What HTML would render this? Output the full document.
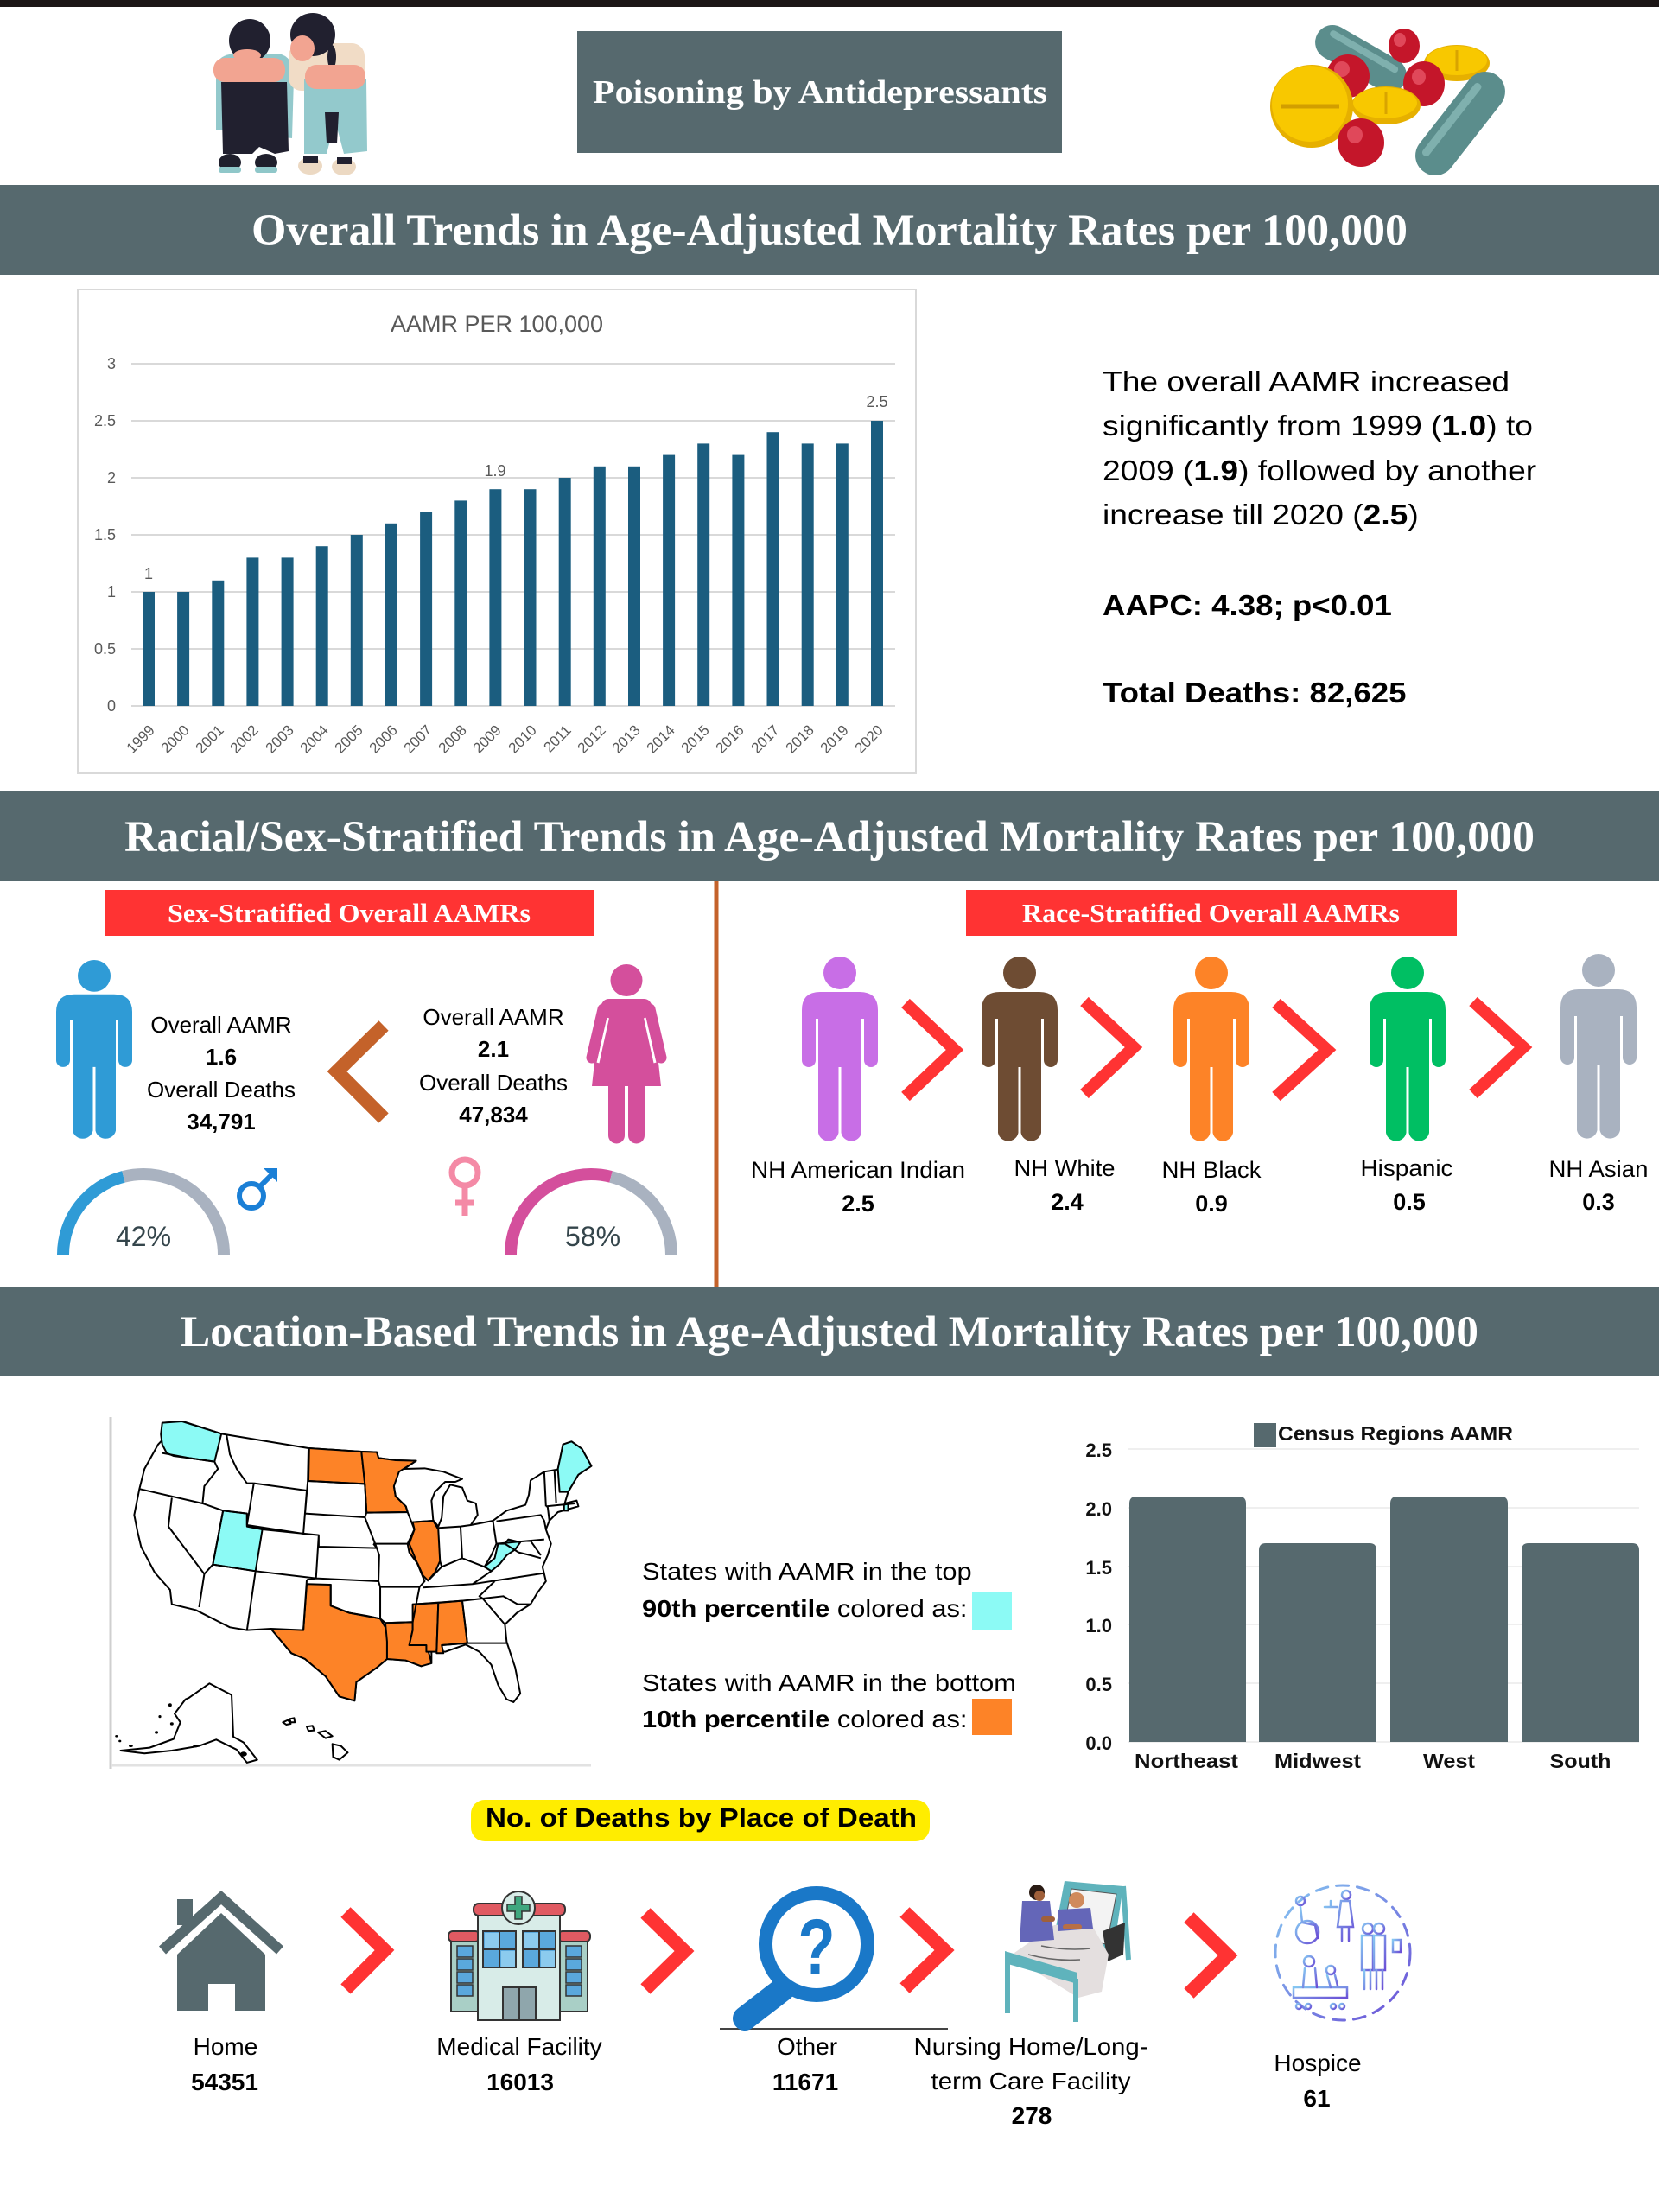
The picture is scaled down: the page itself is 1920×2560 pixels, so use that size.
<!DOCTYPE html>
<html><head><meta charset="utf-8"><title>Poisoning by Antidepressants</title>
<style>
html,body{margin:0;padding:0;background:#fff;}
svg{display:block;}
text{font-family:"Liberation Sans",Arial,sans-serif;}
.sf{font-family:"Liberation Serif",serif;font-weight:bold;fill:#fff;}
.b{font-weight:bold;}
</style></head><body>
<svg width="1920" height="2560" viewBox="0 0 1920 2560" xmlns="http://www.w3.org/2000/svg">
<defs>
<linearGradient id="hg" x1="0" y1="0" x2="1" y2="1"><stop offset="0" stop-color="#86c8f2"/><stop offset="1" stop-color="#6b4fd6"/></linearGradient>
</defs>
<rect width="1920" height="2560" fill="#fff"/>
<rect width="1920" height="8" fill="#1c1616"/>

<!-- girls illustration -->
<g>
<path d="M250,75 Q255,62 275,62 L322,62 Q340,65 340,90 L338,160 L250,150 Z" fill="#93c9cc"/>
<path d="M256,95 L332,95 L334,175 L318,178 L300,170 L292,178 L258,178 Z" fill="#21202f"/>
<ellipse cx="289" cy="47" rx="24" ry="25" fill="#21202f"/>
<ellipse cx="286" cy="64" rx="16" ry="7" fill="#f2a491"/>
<rect x="247" y="67" width="83" height="28" rx="13" fill="#f2a491"/>
<ellipse cx="266" cy="188" rx="13" ry="10" fill="#1f1f2c"/><rect x="253" y="193" width="26" height="7" rx="3" fill="#8fc7c9"/>
<ellipse cx="308" cy="188" rx="13" ry="10" fill="#1f1f2c"/><rect x="295" y="193" width="26" height="7" rx="3" fill="#8fc7c9"/>
<rect x="334" y="50" width="88" height="55" rx="15" fill="#f1dcc6"/>
<ellipse cx="362" cy="40" rx="26" ry="25" fill="#21202f"/>
<ellipse cx="350" cy="56" rx="14" ry="15" fill="#f2a491"/>
<ellipse cx="384" cy="66" rx="5" ry="14" fill="#21202f"/>
<path d="M352,92 L424,92 L425,175 L398,178 L388,140 L378,178 L352,178 Z" fill="#93c9cc"/>
<polygon points="376,130 392,130 390,166 378,166" fill="#21202f"/>
<rect x="353" y="75" width="70" height="28" rx="13" fill="#f2a491"/>
<ellipse cx="359" cy="192" rx="14" ry="10" fill="#ecd9c3"/><rect x="351" y="181" width="17" height="8" fill="#21202f"/>
<ellipse cx="398" cy="193" rx="14" ry="10" fill="#ecd9c3"/><rect x="390" y="182" width="17" height="8" fill="#21202f"/>
</g>

<!-- title box -->
<rect x="668" y="36" width="561" height="141" fill="#56696e"/>
<text class="sf" x="686" y="119" font-size="38" textLength="526" lengthAdjust="spacingAndGlyphs">Poisoning by Antidepressants</text>

<!-- pills -->
<g>
<g transform="translate(1575,68) rotate(30)"><rect x="-58" y="-20" width="116" height="40" rx="20" fill="#5b8d8c"/><rect x="-46" y="-13" width="90" height="8" rx="4" fill="#7fb0ae"/></g>
<ellipse cx="1625" cy="53" rx="18" ry="20" fill="#c4162a"/><ellipse cx="1620" cy="46" rx="7" ry="8" fill="#e0485a"/>
<ellipse cx="1686" cy="73" rx="38" ry="21" fill="#e6b000"/><ellipse cx="1686" cy="70" rx="35" ry="17" fill="#f8c800"/><line x1="1686" y1="58" x2="1686" y2="82" stroke="#d9a400" stroke-width="3"/>
<ellipse cx="1560" cy="88" rx="25" ry="25" fill="#c4162a"/><ellipse cx="1553" cy="80" rx="9" ry="9" fill="#e0485a"/>
<ellipse cx="1648" cy="97" rx="24" ry="26" fill="#c4162a"/><ellipse cx="1642" cy="89" rx="8" ry="9" fill="#e0485a"/>
<g transform="translate(1690,143) rotate(-52)"><rect x="-70" y="-23" width="140" height="46" rx="23" fill="#5b8d8c"/><rect x="-55" y="-15" width="105" height="9" rx="4" fill="#7fb0ae"/></g>
<circle cx="1518" cy="123" r="48" fill="#e6b000"/><circle cx="1516" cy="120" r="44" fill="#f8c800"/><line x1="1482" y1="123" x2="1550" y2="123" stroke="#d29e00" stroke-width="5"/>
<ellipse cx="1604" cy="122" rx="40" ry="22" fill="#e6b000"/><ellipse cx="1603" cy="119" rx="37" ry="18" fill="#f8c800"/><line x1="1604" y1="106" x2="1604" y2="132" stroke="#d9a400" stroke-width="3"/>
<ellipse cx="1575" cy="165" rx="27" ry="28" fill="#c4162a"/><ellipse cx="1568" cy="156" rx="9" ry="10" fill="#e0485a"/>
</g>

<!-- band 1 -->
<rect x="0" y="214" width="1920" height="104" fill="#56696e"/>
<text class="sf" x="291" y="283" font-size="51" textLength="1338" lengthAdjust="spacingAndGlyphs">Overall Trends in Age-Adjusted Mortality Rates per 100,000</text>

<!-- AAMR chart -->
<rect x="90" y="335" width="970" height="560" fill="#fff" stroke="#d9d9d9" stroke-width="2"/>
<text x="575" y="384" font-size="27" fill="#595959" text-anchor="middle">AAMR PER 100,000</text>
<g stroke="#d9d9d9" stroke-width="2">
<line x1="152" y1="817" x2="1036" y2="817"/><line x1="152" y1="751" x2="1036" y2="751"/><line x1="152" y1="685" x2="1036" y2="685"/><line x1="152" y1="619" x2="1036" y2="619"/><line x1="152" y1="553" x2="1036" y2="553"/><line x1="152" y1="487" x2="1036" y2="487"/><line x1="152" y1="421" x2="1036" y2="421"/>
</g>
<g font-size="18" fill="#595959" text-anchor="end">
<text x="134" y="823">0</text><text x="134" y="757">0.5</text><text x="134" y="691">1</text><text x="134" y="625">1.5</text><text x="134" y="559">2</text><text x="134" y="493">2.5</text><text x="134" y="427">3</text>
</g>
<g fill="#1b5d7f">
<rect x="165" y="685" width="14" height="132"/>
<rect x="205.1" y="685" width="14" height="132"/>
<rect x="245.3" y="671.8" width="14" height="145.2"/>
<rect x="285.4" y="645.4" width="14" height="171.6"/>
<rect x="325.6" y="645.4" width="14" height="171.6"/>
<rect x="365.7" y="632.2" width="14" height="184.8"/>
<rect x="405.8" y="619" width="14" height="198"/>
<rect x="446" y="605.8" width="14" height="211.2"/>
<rect x="486.1" y="592.6" width="14" height="224.4"/>
<rect x="526.3" y="579.4" width="14" height="237.6"/>
<rect x="566.4" y="566.2" width="14" height="250.8"/>
<rect x="606.5" y="566.2" width="14" height="250.8"/>
<rect x="646.7" y="553" width="14" height="264"/>
<rect x="686.8" y="539.8" width="14" height="277.2"/>
<rect x="727" y="539.8" width="14" height="277.2"/>
<rect x="767.1" y="526.6" width="14" height="290.4"/>
<rect x="807.2" y="513.4" width="14" height="303.6"/>
<rect x="847.4" y="526.6" width="14" height="290.4"/>
<rect x="887.5" y="500.2" width="14" height="316.8"/>
<rect x="927.7" y="513.4" width="14" height="303.6"/>
<rect x="967.8" y="513.4" width="14" height="303.6"/>
<rect x="1008" y="487" width="14" height="330"/>
</g>
<g font-size="18" fill="#595959" text-anchor="middle">
<text x="172" y="670">1</text><text x="573" y="551">1.9</text><text x="1015" y="471">2.5</text>
</g>
<g font-size="17" fill="#595959" text-anchor="end">
<text transform="translate(180,846) rotate(-45)">1999</text>
<text transform="translate(220,846) rotate(-45)">2000</text>
<text transform="translate(260,846) rotate(-45)">2001</text>
<text transform="translate(300,846) rotate(-45)">2002</text>
<text transform="translate(341,846) rotate(-45)">2003</text>
<text transform="translate(381,846) rotate(-45)">2004</text>
<text transform="translate(421,846) rotate(-45)">2005</text>
<text transform="translate(461,846) rotate(-45)">2006</text>
<text transform="translate(501,846) rotate(-45)">2007</text>
<text transform="translate(541,846) rotate(-45)">2008</text>
<text transform="translate(581,846) rotate(-45)">2009</text>
<text transform="translate(622,846) rotate(-45)">2010</text>
<text transform="translate(662,846) rotate(-45)">2011</text>
<text transform="translate(702,846) rotate(-45)">2012</text>
<text transform="translate(742,846) rotate(-45)">2013</text>
<text transform="translate(782,846) rotate(-45)">2014</text>
<text transform="translate(822,846) rotate(-45)">2015</text>
<text transform="translate(862,846) rotate(-45)">2016</text>
<text transform="translate(903,846) rotate(-45)">2017</text>
<text transform="translate(943,846) rotate(-45)">2018</text>
<text transform="translate(983,846) rotate(-45)">2019</text>
<text transform="translate(1023,846) rotate(-45)">2020</text>
</g>

<!-- right text -->
<g transform="translate(1276,0) scale(1.127,1)" font-size="33" fill="#000">
<text x="0" y="453">The overall AAMR increased</text>
<text x="0" y="504">significantly from 1999 (<tspan class="b">1.0</tspan>) to</text>
<text x="0" y="556">2009 (<tspan class="b">1.9</tspan>) followed by another</text>
<text x="0" y="607">increase till 2020 (<tspan class="b">2.5</tspan>)</text>
</g>
<g transform="translate(1276,0) scale(1.11,1)" font-size="33" fill="#000" font-weight="bold">
<text x="0" y="712">AAPC: 4.38; p&lt;0.01</text>
<text x="0" y="813">Total Deaths: 82,625</text>
</g>

<!-- band 2 -->
<rect x="0" y="916" width="1920" height="104" fill="#56696e"/>
<text class="sf" x="144" y="985" font-size="51" textLength="1632" lengthAdjust="spacingAndGlyphs">Racial/Sex-Stratified Trends in Age-Adjusted Mortality Rates per 100,000</text>

<!-- divider -->
<line x1="829" y1="1020" x2="829" y2="1489" stroke="#c4622a" stroke-width="5"/>

<!-- sex section -->
<rect x="121" y="1030" width="567" height="53" fill="#ff3333"/>
<text class="sf" x="194" y="1067" font-size="31" textLength="420" lengthAdjust="spacingAndGlyphs">Sex-Stratified Overall AAMRs</text>

<g transform="translate(109,1111) scale(1,0.968)" fill="#2f9bd6">
<circle cx="0" cy="19" r="19"/>
<path d="M-44,120 V62 Q-44,41 -23,41 H23 Q44,41 44,62 V120 A8,8 0 0 1 28,120 V72 H25 V204 A12,12 0 0 1 1.5,204 V128 H-1.5 V204 A12,12 0 0 1 -25,204 V72 H-28 V120 A8,8 0 0 1 -44,120 Z"/>
</g>
<g font-size="26" fill="#000" text-anchor="middle">
<text x="256" y="1195">Overall AAMR</text>
<text x="256" y="1232" class="b">1.6</text>
<text x="256" y="1270">Overall Deaths</text>
<text x="256" y="1307" class="b">34,791</text>
<text x="571" y="1186">Overall AAMR</text>
<text x="571" y="1223" class="b">2.1</text>
<text x="571" y="1262">Overall Deaths</text>
<text x="571" y="1299" class="b">47,834</text>
</g>
<polyline points="444,1187 390,1240 444,1294" fill="none" stroke="#c4622a" stroke-width="16"/>

<g transform="translate(725,1116)">
<circle cx="0" cy="18.5" r="18.5" fill="#d44f9c"/>
<path d="M-20,40 H20 Q28,40 30,50 L40,141 H-40 L-30,50 Q-28,40 -20,40 Z" fill="#d44f9c"/>
<line x1="-21.5" y1="62" x2="-33" y2="114" stroke="#fff" stroke-width="3"/>
<line x1="21.5" y1="62" x2="33" y2="114" stroke="#fff" stroke-width="3"/>
<line x1="-27" y1="52" x2="-40" y2="108" stroke="#d44f9c" stroke-width="13" stroke-linecap="round"/>
<line x1="27" y1="52" x2="40" y2="108" stroke="#d44f9c" stroke-width="13" stroke-linecap="round"/>
<path d="M-21,139 H-2 V198 A9.5,9.5 0 0 1 -21,198 Z" fill="#d44f9c"/>
<path d="M2,139 H21 V198 A9.5,9.5 0 0 1 2,198 Z" fill="#d44f9c"/>
</g>

<!-- gauges -->
<path d="M73,1452 A93,93 0 0 1 142.9,1361.9" fill="none" stroke="#2f9bd6" stroke-width="14"/>
<path d="M142.9,1361.9 A93,93 0 0 1 259,1452" fill="none" stroke="#a9b2c0" stroke-width="14"/>
<text x="166" y="1442" font-size="32" fill="#34454b" text-anchor="middle">42%</text>
<path d="M591,1452 A93,93 0 0 1 707.1,1361.9" fill="none" stroke="#d44f9c" stroke-width="14"/>
<path d="M707.1,1361.9 A93,93 0 0 1 777,1452" fill="none" stroke="#a9b2c0" stroke-width="14"/>
<text x="686" y="1442" font-size="32" fill="#34454b" text-anchor="middle">58%</text>
<!-- male symbol -->
<circle cx="291" cy="1384" r="14" fill="none" stroke="#1a7fd6" stroke-width="6"/>
<line x1="301" y1="1373" x2="316" y2="1358" stroke="#1a7fd6" stroke-width="6"/>
<polygon points="305,1352 321,1352 321,1368" fill="#1a7fd6"/>
<!-- female symbol -->
<circle cx="538" cy="1357" r="15" fill="none" stroke="#f48aa6" stroke-width="7"/>
<line x1="538" y1="1372" x2="538" y2="1407" stroke="#f48aa6" stroke-width="7"/>
<line x1="527" y1="1392" x2="549" y2="1392" stroke="#f48aa6" stroke-width="7"/>

<!-- race section -->
<rect x="1118" y="1030" width="568" height="53" fill="#ff3333"/>
<text class="sf" x="1183" y="1067" font-size="31" textLength="437" lengthAdjust="spacingAndGlyphs">Race-Stratified Overall AAMRs</text>

<g id="p1" transform="translate(972,1107)" fill="#c86ee6">
<circle cx="0" cy="19" r="19"/>
<path d="M-44,120 V62 Q-44,41 -23,41 H23 Q44,41 44,62 V120 A8,8 0 0 1 28,120 V72 H25 V204 A12,12 0 0 1 1.5,204 V128 H-1.5 V204 A12,12 0 0 1 -25,204 V72 H-28 V120 A8,8 0 0 1 -44,120 Z"/>
</g>
<g transform="translate(1180,1107)" fill="#6e4c33">
<circle cx="0" cy="19" r="19"/>
<path d="M-44,120 V62 Q-44,41 -23,41 H23 Q44,41 44,62 V120 A8,8 0 0 1 28,120 V72 H25 V204 A12,12 0 0 1 1.5,204 V128 H-1.5 V204 A12,12 0 0 1 -25,204 V72 H-28 V120 A8,8 0 0 1 -44,120 Z"/>
</g>
<g transform="translate(1402,1107)" fill="#fd8327">
<circle cx="0" cy="19" r="19"/>
<path d="M-44,120 V62 Q-44,41 -23,41 H23 Q44,41 44,62 V120 A8,8 0 0 1 28,120 V72 H25 V204 A12,12 0 0 1 1.5,204 V128 H-1.5 V204 A12,12 0 0 1 -25,204 V72 H-28 V120 A8,8 0 0 1 -44,120 Z"/>
</g>
<g transform="translate(1629,1107)" fill="#00bf63">
<circle cx="0" cy="19" r="19"/>
<path d="M-44,120 V62 Q-44,41 -23,41 H23 Q44,41 44,62 V120 A8,8 0 0 1 28,120 V72 H25 V204 A12,12 0 0 1 1.5,204 V128 H-1.5 V204 A12,12 0 0 1 -25,204 V72 H-28 V120 A8,8 0 0 1 -44,120 Z"/>
</g>
<g transform="translate(1850,1104)" fill="#a9b2c0">
<circle cx="0" cy="19" r="19"/>
<path d="M-44,120 V62 Q-44,41 -23,41 H23 Q44,41 44,62 V120 A8,8 0 0 1 28,120 V72 H25 V204 A12,12 0 0 1 1.5,204 V128 H-1.5 V204 A12,12 0 0 1 -25,204 V72 H-28 V120 A8,8 0 0 1 -44,120 Z"/>
</g>
<g fill="none" stroke="#ff3333" stroke-width="14">
<polyline points="1048,1161 1105,1215 1048,1269"/>
<polyline points="1255,1159 1312,1212 1255,1266"/>
<polyline points="1477,1161 1536,1215 1477,1269"/>
<polyline points="1705,1159 1763,1212 1705,1266"/>
</g>
<g font-size="27" fill="#000" text-anchor="middle">
<text x="993" y="1363" textLength="248" lengthAdjust="spacingAndGlyphs">NH American Indian</text>
<text x="1232" y="1361" textLength="117" lengthAdjust="spacingAndGlyphs">NH White</text>
<text x="1402" y="1363" textLength="115" lengthAdjust="spacingAndGlyphs">NH Black</text>
<text x="1628" y="1361" textLength="107" lengthAdjust="spacingAndGlyphs">Hispanic</text>
<text x="1850" y="1362" textLength="115" lengthAdjust="spacingAndGlyphs">NH Asian</text>
<text x="993" y="1402" class="b">2.5</text>
<text x="1235" y="1400" class="b">2.4</text>
<text x="1402" y="1402" class="b">0.9</text>
<text x="1631" y="1400" class="b">0.5</text>
<text x="1850" y="1400" class="b">0.3</text>
</g>

<!-- band 3 -->
<rect x="0" y="1489" width="1920" height="104" fill="#56696e"/>
<text class="sf" x="209" y="1558" font-size="51" textLength="1502" lengthAdjust="spacingAndGlyphs">Location-Based Trends in Age-Adjusted Mortality Rates per 100,000</text>

<!-- map -->
<line x1="128" y1="1640" x2="128" y2="2047" stroke="#cfcfcf" stroke-width="3"/>
<line x1="128" y1="2043" x2="684" y2="2043" stroke="#e2e2e2" stroke-width="3"/>
<g transform="translate(100,1600) scale(0.3954,0.3333)" stroke="#000" stroke-linejoin="round">
<path vector-effect="non-scaling-stroke" stroke-width="2" fill="#fff" d="M222,200 L225,140 L282,135 L395,178 L650,228 L805,240 L850,242 L855,262 L905,270 L965,272 L930,300 L990,298 L1045,310 L1100,335 L1080,345 L1050,345 L1020,380 L1010,410 L1015,478 L1030,500 L1040,470 L1045,395 L1065,355 L1100,365 L1115,410 L1140,420 L1145,460 L1125,495 L1190,480 L1230,445 L1285,425 L1295,390 L1300,340 L1340,310 L1380,302 L1395,215 L1420,205 L1450,230 L1478,290 L1440,320 L1410,380 L1400,420 L1435,410 L1440,430 L1380,450 L1355,480 L1345,510 L1360,560 L1350,600 L1335,640 L1345,690 L1320,730 L1300,770 L1260,800 L1225,840 L1230,900 L1255,990 L1270,1080 L1250,1110 L1230,1100 L1205,1050 L1185,980 L1150,935 L1110,910 L1050,935 L1010,930 L1010,972 L980,985 L935,965 L880,960 L850,990 L790,1040 L785,1105 L740,1090 L700,1020 L640,960 L600,940 L540,855 L470,860 L420,850 L320,790 L250,770 L245,720 L200,660 L160,570 L150,520 L140,460 L155,370 L170,300 L210,215 Z"/>
<g fill="#8cfaf5" vector-effect="non-scaling-stroke">
<path vector-effect="non-scaling-stroke" stroke-width="2" d="M222,140 L280,135 L395,178 L375,275 L300,262 L255,255 L235,245 L222,215 L218,180 Z"/>
<path vector-effect="non-scaling-stroke" stroke-width="2" d="M400,445 L470,455 L470,500 L515,510 L495,655 L370,632 Z"/>
<path vector-effect="non-scaling-stroke" stroke-width="2" d="M1165,640 L1195,610 L1205,560 L1225,560 L1235,545 L1270,555 L1255,580 L1230,600 L1210,630 L1185,655 Z"/>
<path vector-effect="non-scaling-stroke" stroke-width="2" d="M1395,215 L1420,205 L1450,230 L1478,290 L1440,320 L1410,380 L1385,380 L1380,300 Z"/>
<path vector-effect="non-scaling-stroke" stroke-width="2" d="M1398,425 L1410,420 L1410,445 L1398,445 Z"/>
</g>
<g fill="#fd8327">
<path vector-effect="non-scaling-stroke" stroke-width="2" d="M652,228 L805,240 L815,352 L650,342 Z"/>
<path vector-effect="non-scaling-stroke" stroke-width="2" d="M805,240 L850,242 L855,262 L905,270 L965,272 L915,310 L900,360 L905,395 L935,430 L940,450 L820,452 L815,352 Z"/>
<path vector-effect="non-scaling-stroke" stroke-width="2" d="M955,485 L1015,480 L1030,510 L1035,620 L1020,660 L1000,688 L985,670 L970,630 L945,590 L940,560 L960,510 Z"/>
<path vector-effect="non-scaling-stroke" stroke-width="2" d="M645,700 L715,702 L715,775 L770,800 L820,810 L860,820 L880,860 L880,960 L850,990 L790,1040 L785,1105 L740,1090 L700,1020 L640,960 L600,940 L540,855 L635,860 Z"/>
<path vector-effect="non-scaling-stroke" stroke-width="2" d="M875,835 L955,832 L955,860 L945,912 L995,912 L1005,950 L1010,975 L980,985 L935,965 L880,960 L880,900 Z"/>
<path vector-effect="non-scaling-stroke" stroke-width="2" d="M955,770 L1030,765 L1025,935 L995,935 L995,912 L945,912 L955,860 Z"/>
<path vector-effect="non-scaling-stroke" stroke-width="2" d="M1030,765 L1100,758 L1115,905 L1040,912 L1045,940 L1025,940 Z"/>
</g>
<path vector-effect="non-scaling-stroke" stroke-width="2" fill="none" d="M222,245 L300,262 L375,275 M375,275 L385,300 L345,360 L340,420 M157,370 L340,420 L400,445 L470,455 M250,400 L240,500 L345,665 L330,780 M400,445 L370,632 L345,665 M370,632 L495,655 M495,655 L470,860 M410,180 L420,250 L440,300 L470,350 L490,350 M490,350 L645,375 L635,525 L470,495 L490,350 M470,455 L470,495 L515,510 M515,510 L680,530 L672,680 L495,655 M650,228 L648,342 L640,455 M648,342 L815,352 M640,455 L815,468 M815,352 L820,452 L815,468 M635,525 L680,530 L680,570 L850,575 M815,468 L832,520 L850,575 M850,575 L857,600 L855,690 M672,680 L855,690 M645,685 L635,860 M645,685 L672,680 M715,700 L715,775 L770,800 L860,820 M855,690 L860,710 L860,820 L875,835 M820,452 L940,450 M840,560 L945,560 L960,510 L940,450 M840,560 L850,575 M945,560 L990,690 L975,710 L860,710 M975,710 L955,832 L875,835 M940,450 L935,430 L905,395 L900,360 M955,485 L1015,480 M1030,505 L1095,500 L1100,610 L1040,640 L1035,620 M1095,500 L1125,495 M1190,482 L1200,560 L1185,600 L1165,640 L1100,610 M1000,688 L1040,640 M1165,640 L1185,655 L1130,700 L985,712 M1130,700 L1340,662 M960,770 L1100,758 L1160,750 M1195,690 L1150,742 L1160,750 M1160,750 L1220,742 L1262,770 L1300,770 M1160,750 L1225,840 M1100,758 L1115,905 M1040,912 L1115,905 L1230,905 M1200,560 L1340,545 M1200,482 L1330,460 L1340,480 L1345,510 M1300,550 L1330,600 M1225,560 L1265,590 L1300,600 L1330,610 M1340,310 L1345,430 M1370,305 L1375,420 M1345,430 L1430,420 M1350,430 L1355,480"/>
<path vector-effect="non-scaling-stroke" stroke-width="2" fill="#fff" d="M300,1095 L360,1045 L425,1085 L430,1230 L460,1250 L500,1310 L470,1320 L440,1275 L380,1240 L330,1262 L250,1278 L170,1288 L100,1278 L185,1268 L255,1238 L275,1180 L258,1150 L290,1100 Z"/>
<path vector-effect="non-scaling-stroke" stroke-width="2" fill="#fff" d="M575,1180 L590,1172 L598,1185 L585,1188 Z M595,1168 L608,1165 L610,1180 L598,1180 Z M645,1195 L662,1192 L667,1208 L650,1210 Z M678,1215 L700,1210 L720,1228 L700,1235 Z M720,1255 L745,1262 L765,1285 L740,1310 L722,1300 Z"/>
<g fill="#000" stroke="none">
<ellipse cx="245" cy="1120" rx="5" ry="6"/><ellipse cx="215" cy="1160" rx="4" ry="5"/><ellipse cx="250" cy="1185" rx="5" ry="5"/><ellipse cx="205" cy="1215" rx="5" ry="5"/><ellipse cx="88" cy="1228" rx="4" ry="4"/><ellipse cx="98" cy="1245" rx="4" ry="4"/><ellipse cx="130" cy="1262" rx="6" ry="4"/><ellipse cx="320" cy="1262" rx="8" ry="5"/><ellipse cx="460" cy="1290" rx="10" ry="8"/>
</g>
</g>

<!-- legend text -->
<g transform="translate(743,0) scale(1.1,1)" font-size="28" fill="#000">
<text x="0" y="1828">States with AAMR in the top</text>
<text x="0" y="1871"><tspan class="b">90th percentile</tspan> colored as:</text>
<text x="0" y="1957">States with AAMR in the bottom</text>
<text x="0" y="1999"><tspan class="b">10th percentile</tspan> colored as:</text>
</g>
<rect x="1125" y="1843" width="46" height="43" fill="#8cfaf5"/>
<rect x="1125" y="1966" width="46" height="42" fill="#fd8327"/>

<!-- census chart -->
<rect x="1451" y="1647" width="26" height="28" fill="#56696e"/>
<text x="1479" y="1667" font-size="23" class="b" fill="#111" textLength="272" lengthAdjust="spacingAndGlyphs">Census Regions AAMR</text>
<g stroke="#efefef" stroke-width="2">
<line x1="1305" y1="1677" x2="1897" y2="1677"/><line x1="1305" y1="1745" x2="1897" y2="1745"/><line x1="1305" y1="1813" x2="1897" y2="1813"/><line x1="1305" y1="1880" x2="1897" y2="1880"/><line x1="1305" y1="1948" x2="1897" y2="1948"/><line x1="1305" y1="2016" x2="1897" y2="2016"/>
</g>
<g font-size="22" class="b" fill="#111" text-anchor="end">
<text x="1287" y="1686">2.5</text><text x="1287" y="1754">2.0</text><text x="1287" y="1822">1.5</text><text x="1287" y="1889">1.0</text><text x="1287" y="1957">0.5</text><text x="1287" y="2025">0.0</text>
</g>
<g fill="#56696e">
<path d="M1307,2016 V1740 Q1307,1732 1315,1732 H1434 Q1442,1732 1442,1740 V2016 Z"/>
<path d="M1457,2016 V1794 Q1457,1786 1465,1786 H1585 Q1593,1786 1593,1794 V2016 Z"/>
<path d="M1609,2016 V1740 Q1609,1732 1617,1732 H1737 Q1745,1732 1745,1740 V2016 Z"/>
<path d="M1761,2016 V1794 Q1761,1786 1769,1786 H1889 Q1897,1786 1897,1794 V2016 Z"/>
</g>
<g font-size="23" class="b" fill="#111" text-anchor="middle">
<text x="1373" y="2046" textLength="120" lengthAdjust="spacingAndGlyphs">Northeast</text>
<text x="1525" y="2046" textLength="100" lengthAdjust="spacingAndGlyphs">Midwest</text>
<text x="1677" y="2046" textLength="60" lengthAdjust="spacingAndGlyphs">West</text>
<text x="1829" y="2046" textLength="71" lengthAdjust="spacingAndGlyphs">South</text>
</g>

<!-- place of death header -->
<rect x="545" y="2083" width="531" height="48" rx="16" fill="#ffed00"/>
<text x="562" y="2114" font-size="31" class="b" fill="#000" textLength="499" lengthAdjust="spacingAndGlyphs">No. of Deaths by Place of Death</text>

<!-- house -->
<rect x="205" y="2198" width="18" height="30" fill="#56696e"/>
<polyline points="188,2257 256,2196 324,2257" fill="none" stroke="#56696e" stroke-width="12"/>
<path d="M256,2214 L307,2262 V2327 H272 V2296 H241 V2327 H205 V2262 Z" fill="#56696e"/>

<!-- hospital -->
<g stroke="#333" stroke-width="2">
<rect x="522" y="2243" width="31" height="85" fill="#a9cfc6"/>
<rect x="648" y="2243" width="32" height="85" fill="#a9cfc6"/>
<rect x="519" y="2235" width="36" height="12" rx="5" fill="#e05a62"/>
<rect x="646" y="2235" width="37" height="12" rx="5" fill="#e05a62"/>
<rect x="553" y="2213" width="95" height="125" fill="#d8ece8"/>
<rect x="548" y="2203" width="106" height="14" rx="6" fill="#e05a62"/>
<circle cx="600" cy="2208" r="19" fill="#d8ece8"/>
<g fill="#5aa8dc" stroke-width="1.5">
<rect x="529" y="2252" width="18" height="13"/><rect x="529" y="2267" width="18" height="13"/><rect x="529" y="2282" width="18" height="13"/><rect x="529" y="2297" width="18" height="13"/>
<rect x="655" y="2252" width="18" height="13"/><rect x="655" y="2267" width="18" height="13"/><rect x="655" y="2282" width="18" height="13"/><rect x="655" y="2297" width="18" height="13"/>
</g>
<rect x="559" y="2235" width="38" height="42" fill="#5aa8dc"/>
<rect x="605" y="2235" width="38" height="42" fill="#5aa8dc"/>
<path d="M578,2235 V2277 M559,2256 H597 M624,2235 V2277 M605,2256 H643" fill="none"/>
<rect x="582" y="2300" width="38" height="38" fill="#8fa6ac"/>
<path d="M601,2300 V2338" fill="none"/>
</g>
<g fill="#8ccbee">
<rect x="561" y="2237" width="16" height="18"/><rect x="580" y="2258" width="16" height="18"/><rect x="607" y="2237" width="16" height="18"/><rect x="626" y="2258" width="16" height="18"/>
</g>
<rect x="596" y="2195" width="8" height="26" fill="#3fa77f" stroke="#333" stroke-width="1.5"/>
<rect x="587" y="2204" width="26" height="8" fill="#3fa77f" stroke="#333" stroke-width="1.5"/>
<rect x="597" y="2196" width="6" height="24" fill="#3fa77f"/>

<!-- magnifier -->
<line x1="833" y1="2348" x2="1097" y2="2348" stroke="#444" stroke-width="2"/>
<line x1="906" y1="2302" x2="862" y2="2336" stroke="#1a78c8" stroke-width="28" stroke-linecap="round"/>
<circle cx="945" cy="2250" r="59" fill="#fff" stroke="#1a78c8" stroke-width="16"/>
<text x="945" y="2285" font-size="92" class="b" fill="#1a78c8" text-anchor="middle" textLength="43" lengthAdjust="spacingAndGlyphs">?</text>

<!-- nursing -->
<g>
<polygon points="1232,2177 1300,2183 1288,2262 1218,2252" fill="#5fb3bc"/>
<polygon points="1240,2186 1292,2192 1281,2250 1229,2243" fill="#f3f3f3" stroke="#555" stroke-width="1"/>
<line x1="1300" y1="2183" x2="1306" y2="2268" stroke="#5fb3bc" stroke-width="6"/>
<polygon points="1276,2235 1302,2225 1300,2262 1282,2270" fill="#333"/>
<polygon points="1174,2260 1220,2228 1262,2225 1283,2262 1275,2305 1248,2312 1176,2268" fill="#e4dfdf"/>
<path d="M1190,2262 Q1220,2270 1250,2268 M1205,2252 Q1235,2258 1262,2255" stroke="#666" stroke-width="1.5" fill="none"/>
<polygon points="1163,2258 1247,2283 1247,2296 1163,2272" fill="#5fb3bc"/>
<rect x="1163" y="2265" width="6" height="65" fill="#5fb3bc"/>
<rect x="1242" y="2290" width="6" height="50" fill="#5fb3bc"/>
<polygon points="1183,2200 1215,2200 1220,2245 1180,2248" fill="#6466b8"/>
<circle cx="1200" cy="2190" r="9" fill="#2a1b14"/>
<circle cx="1203" cy="2194" r="6" fill="#a0603a"/>
<rect x="1205" y="2218" width="16" height="6" rx="3" fill="#a0603a"/>
<polygon points="1225,2210 1262,2208 1265,2232 1225,2235" fill="#6466b8"/>
<circle cx="1246" cy="2199" r="9" fill="#d08a5c"/>
<rect x="1230" y="2227" width="22" height="6" rx="3" fill="#b86f45"/>
</g>

<!-- hospice -->
<g fill="none" stroke="url(#hg)" stroke-width="2.5" stroke-linecap="round">
<circle cx="1554" cy="2260" r="78" stroke-width="3" stroke-dasharray="14 10"/>
<circle cx="1513" cy="2236" r="13"/>
<circle cx="1505" cy="2200" r="5"/>
<path d="M1505,2207 L1507,2225 L1522,2228 L1525,2243"/>
<circle cx="1558" cy="2193" r="5"/>
<path d="M1552,2200 L1548,2230 L1566,2230 L1562,2200 Z M1553,2230 V2246 M1561,2230 V2246 M1533,2207 H1548 M1540,2200 V2207"/>
<circle cx="1583" cy="2232" r="6"/><circle cx="1596" cy="2232" r="6"/>
<rect x="1576" y="2240" width="13" height="40"/><rect x="1590" y="2240" width="13" height="40"/>
<path d="M1579,2280 V2302 M1586,2280 V2302 M1593,2280 V2302 M1600,2280 V2302"/>
<path d="M1617,2228 V2302"/><rect x="1612" y="2245" width="9" height="14"/>
<rect x="1497" y="2300" width="62" height="12"/>
<path d="M1559,2285 V2316"/>
<circle cx="1503" cy="2322" r="3"/><circle cx="1514" cy="2322" r="3"/><circle cx="1543" cy="2322" r="3"/><circle cx="1553" cy="2322" r="3"/>
<circle cx="1515" cy="2270" r="6"/>
<path d="M1510,2278 L1508,2300 M1522,2278 L1524,2300"/>
<circle cx="1540" cy="2280" r="5"/>
<path d="M1536,2286 L1540,2300 M1545,2286 L1548,2298"/>
</g>

<!-- place chevrons -->
<g fill="none" stroke="#ff3333" stroke-width="16">
<polyline points="400,2213 445,2257 400,2302"/>
<polyline points="747,2214 792,2258 747,2302"/>
<polyline points="1047,2213 1093,2257 1047,2301"/>
<polyline points="1376,2219 1421,2263 1376,2307"/>
</g>

<!-- place labels -->
<g font-size="28" fill="#000" text-anchor="middle">
<text x="261" y="2378">Home</text>
<text x="260" y="2419" class="b">54351</text>
<text x="601" y="2378">Medical Facility</text>
<text x="602" y="2419" class="b">16013</text>
<text x="934" y="2378">Other</text>
<text x="932" y="2419" class="b">11671</text>
<text x="1193" y="2378" textLength="271" lengthAdjust="spacingAndGlyphs">Nursing Home/Long-</text>
<text x="1193" y="2418" textLength="231" lengthAdjust="spacingAndGlyphs">term Care Facility</text>
<text x="1194" y="2458" class="b">278</text>
<text x="1525" y="2397">Hospice</text>
<text x="1524" y="2438" class="b">61</text>
</g>
</svg>
</body></html>
